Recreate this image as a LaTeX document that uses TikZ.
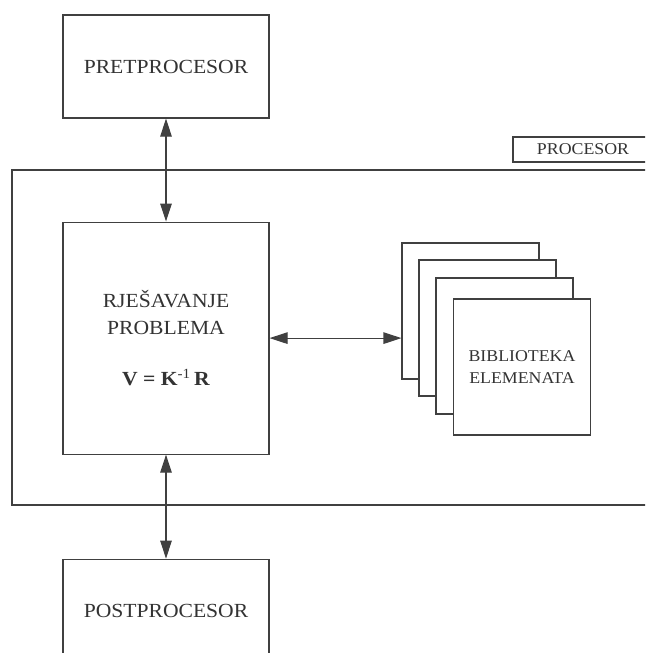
\documentclass[tikz,border=0pt]{standalone}
\usepackage{fontspec}
\setmainfont{Liberation Serif}[FakeStretch=1.08]
\usepackage{tikz}
\usetikzlibrary{arrows.meta,positioning}
\definecolor{linija}{HTML}{404040}
\definecolor{tekst}{HTML}{333333}

\begin{document}
\begin{tikzpicture}[>={Triangle[length=18pt,width=11.5pt]},
x=1pt,y=-1pt,node distance=103pt,
line width=1.1pt,draw=linija,text=tekst,
font=\fontsize{20}{26.5}\selectfont]

\tikzstyle{blok}=[rectangle, minimum width=206pt, minimum height=103pt, text centered, 
align=center, fill=white, draw=linija, line width=1.1pt, inner sep=0pt]

\tikzstyle{libblok}=[blok, minimum width=137pt, minimum height=136pt, 
font=\fontsize{16.5}{22}\selectfont]

\useasboundingbox (0,0) rectangle (645,653);
\clip (0,0) rectangle (645,653);

%procesor frame
\draw[linija] (12,170) rectangle (700,505);

\node[blok, minimum width=140pt, minimum height=25pt, font=\fontsize{16.5}{20}\selectfont]
(proclbl) at (583,149.5)
{PROCESOR};

%main blocks
\node[blok]
(pret) at (166,66.5)
{PRETPROCESOR};

\node[blok, minimum height=232pt]
(solver) [below=of pret]
{RJEŠAVANJE\\PROBLEMA\\[25pt]\textbf{V = K}\textsuperscript{-1}\,\textbf{R}};

\node[blok]
(post) [below=104pt of solver]
{POSTPROCESOR};

%element library stack
\node[libblok]
(lib1) at (470.5,311)
{};

\node[libblok]
(lib2) at ([shift={(17,17)}]lib1)
{};

\node[libblok]
(lib3) at ([shift={(17,18)}]lib2)
{};

\node[libblok]
(lib4) at ([shift={(17.5,21)}]lib3)
{BIBLIOTEKA\\ELEMENATA};

\path[<->] (pret) edge (solver);
\path[<->] (solver) edge (post);
\path[<->] (solver.east) edge (solver.east -| lib1.west);

\end{tikzpicture}
\end{document}
